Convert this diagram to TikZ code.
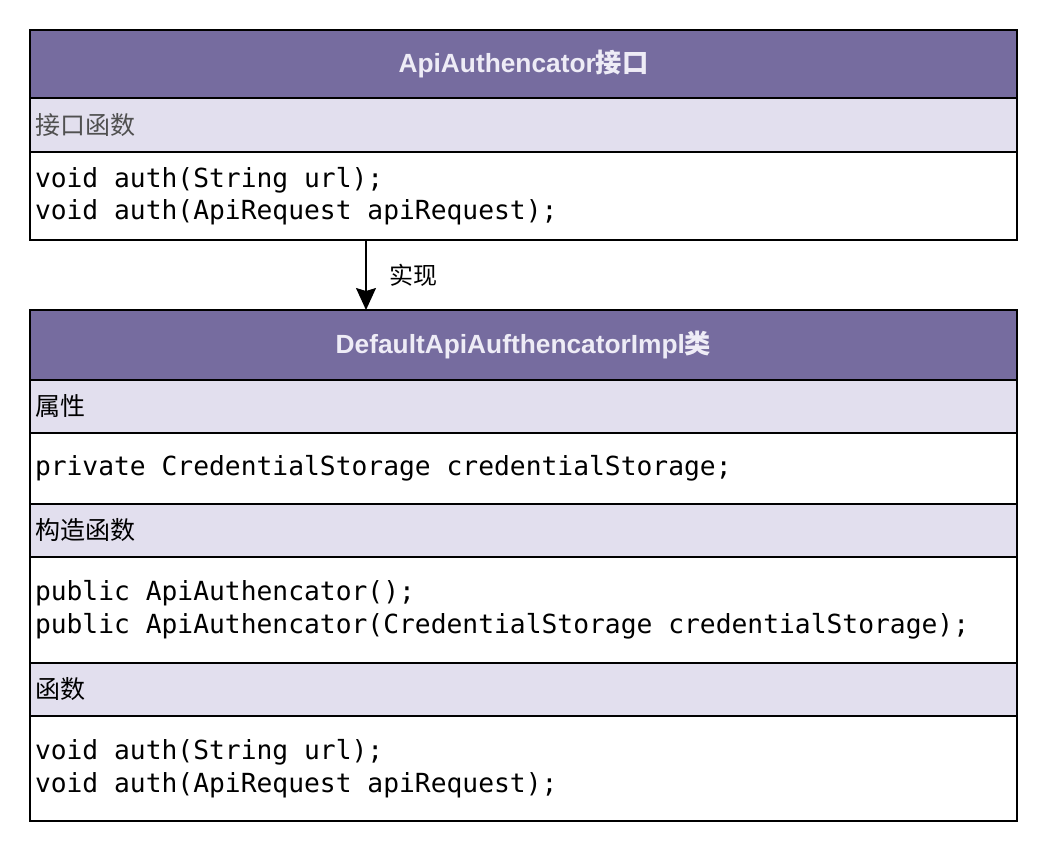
\documentclass[tikz,border=0pt]{standalone}
\usepackage{fontspec}
\setmainfont{Liberation Sans}
\setmonofont{DejaVu Sans Mono}[WordSpace={1,0,0}]
\newfontfamily\cjk{Noto Sans CJK SC}
\usetikzlibrary{arrows.meta,calc}
\definecolor{hdr}{HTML}{766C9F}
\definecolor{sec}{HTML}{E2DFEE}
\definecolor{hdrtxt}{HTML}{EEECF6}
\definecolor{graytxt}{HTML}{505050}
\protected\def\monofnt{\ttfamily\fontsize{26.3}{32.5}\selectfont}
\protected\def\monosp{\spaceskip=0.602em\xspaceskip=0.602em\relax}
\tikzset{
  box/.style={draw=black, line width=1.3pt, outer sep=0pt, anchor=north west, inner xsep=5pt, inner ysep=0pt, text width=977pt},
  hdrbox/.style={box, fill=hdr, align=center, text=hdrtxt, font=\fontsize{26.3}{31}\selectfont\bfseries},
  secbox/.style={box, fill=sec, align=left, font=\cjk\fontsize{25}{30}\selectfont},
  bodybox/.style={box, fill=white, align=left, font=\monofnt, execute at begin node=\monosp},
  lbl/.style={font=\cjk\fontsize{24}{28}\selectfont, anchor=west, inner sep=0pt},
  implarrow/.style={line width=1.5pt, -{Stealth[length=22pt,width=20pt,inset=3pt]}}
}
\begin{document}
\begin{tikzpicture}[x=1pt,y=-1pt]
\useasboundingbox (0,0) rectangle (1047,852);
% interface box
\node[hdrbox, minimum height=68pt] (h1) at (30,30) {ApiAuthencator{\cjk 接口}};
\node[secbox, minimum height=54pt, text=graytxt] (s1) at (h1.south west) {接口函数};
\node[bodybox, minimum height=88pt] (b1) at (s1.south west) {void auth(String url);\\void auth(ApiRequest apiRequest);};
% class box
\node[hdrbox, minimum height=70pt] (h2) at (30,310) {DefaultApiAufthencatorImpl{\cjk 类}};
\node[secbox, minimum height=53pt] (s2) at (h2.south west) {属性};
\node[bodybox, minimum height=71pt] (b2) at (s2.south west) {private CredentialStorage credentialStorage;};
\node[secbox, minimum height=53pt] (s3) at (b2.south west) {构造函数};
\node[bodybox, minimum height=106pt] (b3) at (s3.south west) {public ApiAuthencator();\\public ApiAuthencator(CredentialStorage credentialStorage);};
\node[secbox, minimum height=53pt] (s4) at (b3.south west) {函数};
\node[bodybox, minimum height=105pt] (b4) at (s4.south west) {void auth(String url);\\void auth(ApiRequest apiRequest);};
% arrow
\coordinate (ax) at (366,0);
\draw[implarrow] (b1.south -| ax) -- (h2.north -| ax);
\node[lbl] (impl) at (389,275) {实现};
\end{tikzpicture}
\end{document}
